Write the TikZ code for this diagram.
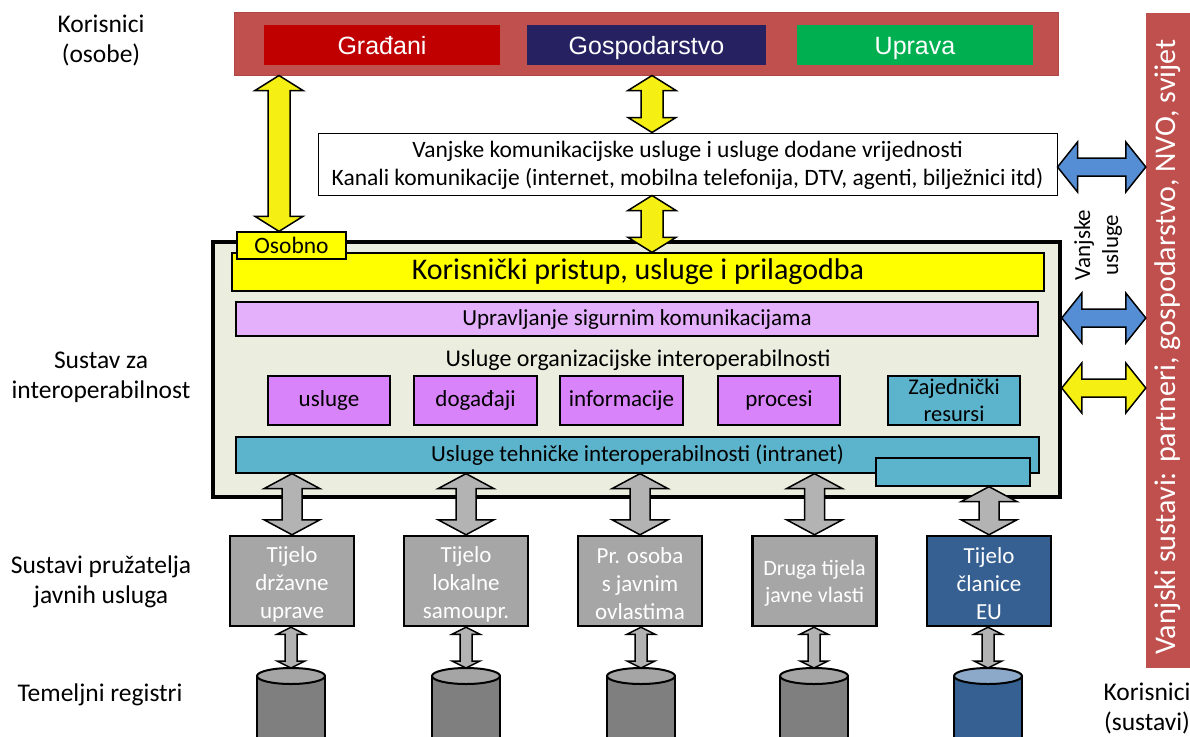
\documentclass[tikz,border=0pt]{standalone}
\usepackage{fontspec}
\setmainfont{Carlito}
\newfontfamily\arialf{Liberation Sans}
\usetikzlibrary{calc}
\definecolor{redbar}{HTML}{C0504D}
\definecolor{redbord}{HTML}{B04744}
\definecolor{gradj}{HTML}{C00000}
\definecolor{gosp}{HTML}{262262}
\definecolor{uprava}{HTML}{00B050}
\definecolor{ylw}{HTML}{FFFF00}
\definecolor{ylwarr}{HTML}{F5EF14}
\definecolor{mainfill}{HTML}{EBEEDF}
\definecolor{lilac}{HTML}{E4B0FC}
\definecolor{purp}{HTML}{D883F9}
\definecolor{cyanb}{HTML}{5CB3CC}
\definecolor{bluearr}{HTML}{558ED5}
\definecolor{grayarr}{HTML}{B3B3B3}
\definecolor{graybox}{HTML}{A6A6A6}
\definecolor{cylbody}{HTML}{7F7F7F}
\definecolor{cyltop}{HTML}{A5A5A5}
\definecolor{eubox}{HTML}{366092}
\definecolor{eutop}{HTML}{8DA9C9}
\newcommand\fsz[2]{\fontsize{#1}{#2}\selectfont}
% vertical double block arrow: top coord, bottom coord, x, shaft half, head half, head length, style
\newcommand\VArr[7]{%
 \path[#7] let \p1=(#1), \p2=(#2) in
 (#3pt,\y1) -- (#3pt+#5pt,\y1-#6pt) -- (#3pt+#4pt,\y1-#6pt) -- (#3pt+#4pt,\y2+#6pt)
 -- (#3pt+#5pt,\y2+#6pt) -- (#3pt,\y2) -- (#3pt-#5pt,\y2+#6pt) -- (#3pt-#4pt,\y2+#6pt)
 -- (#3pt-#4pt,\y1-#6pt) -- (#3pt-#5pt,\y1-#6pt) -- cycle;}
% horizontal double block arrow: left coord, right coord, y, shaft half, head half, head length, style
\newcommand\HArr[7]{%
 \path[#7] let \p1=(#1), \p2=(#2) in
 (\x1,-#3pt) -- (\x1+#6pt,-#3pt+#5pt) -- (\x1+#6pt,-#3pt+#4pt) -- (\x2-#6pt,-#3pt+#4pt)
 -- (\x2-#6pt,-#3pt+#5pt) -- (\x2,-#3pt) -- (\x2-#6pt,-#3pt-#5pt) -- (\x2-#6pt,-#3pt-#4pt)
 -- (\x1+#6pt,-#3pt-#4pt) -- (\x1+#6pt,-#3pt-#5pt) -- cycle;}
\newcommand\Cyl[3]{%
 \draw[line width=2, fill=#2] (#1-34,676) -- (#1-34,750) -- (#1+34,750) -- (#1+34,676);
 \draw[line width=2, fill=#3] (#1,676) ellipse [x radius=34, y radius=8];}
\begin{document}
\begin{tikzpicture}[x=1pt,y=-1pt,
  lbl/.style={font=\fsz{25.5}{30}, align=center, inner sep=0},
  topbox/.style={minimum height=40, inner sep=0, text=white, font=\arialf\fsz{25}{30}, text height=18, text depth=0},
  bar/.style={draw=black, line width=1.3, inner sep=0},
  sbox/.style={draw=black, line width=2, fill=purp, minimum height=49, inner sep=0, font=\fsz{23}{27}},
  pbox/.style={draw=black, line width=2.5, fill=graybox, minimum width=124, minimum height=90, inner sep=0},
  ptext/.style={yshift=-3pt, inner sep=0, text=white, align=center, font=\fsz{23}{28}},
  yarr/.style={draw=black, line width=1.5, fill=ylwarr},
  barr/.style={draw=black, line width=1.5, fill=bluearr},
  garr/.style={draw=black, line width=1.5, fill=grayarr},
]
\useasboundingbox (0,0) rectangle (1190,736);
% left labels
\node[lbl] (l1) at (101,40) {Korisnici\\(osobe)};
\node[lbl] (l2) at (101,377) {Sustav za\\interoperabilnost};
\node[lbl] (l3) at (101,582) {Sustavi pružatelja\\javnih usluga};
\node[lbl] (l4) at (100,695) {Temeljni registri};
% top bar
\node[draw=redbord, line width=1, fill=redbar, minimum width=824, minimum height=63, inner sep=0] (top) at (646,43.5) {};
\node[topbox, fill=gradj, minimum width=236] (gr) at (382,45) {Građani};
\node[topbox, fill=gosp, minimum width=239] (go) at (646.5,45) {Gospodarstvo};
\node[topbox, fill=uprava, minimum width=236] (up) at (915,45) {Uprava};
% white box
\node[draw=black, line width=1, fill=white, minimum width=739, minimum height=62, inner sep=0, align=center, font=\fsz{23.5}{28}] (white) at (687.5,164)
  {\strut Vanjske komunikacijske usluge i usluge dodane vrijednosti\\Kanali komunikacije (internet, mobilna telefonija, DTV, agenti, bilježnici itd)};
% main box
\node[draw=black, line width=3.5, fill=mainfill, minimum width=847, minimum height=255, inner sep=0] (main) at (636.5,369.5) {};
\node[bar, fill=ylw, minimum width=812, minimum height=38, font=\fsz{30}{36}] (ybar) at (638,272) {Korisnički pristup, usluge i prilagodba};
\node[bar, fill=ylw, minimum width=109, minimum height=27, font=\fsz{23.5}{26}] (osobno) at (291.5,245.5) {Osobno};
\node[bar, fill=lilac, minimum width=802, minimum height=34, font=\fsz{23}{27}] (pbar) at (637,319) {Upravljanje sigurnim komunikacijama};
\node[inner sep=0, font=\fsz{24}{28}] (org) at (638,360) {Usluge organizacijske interoperabilnosti};
\node[sbox, minimum width=122] (s1) at (329,400.5) {usluge};
\node[sbox, minimum width=123] (s2) at (475.5,400.5) {događaji};
\node[sbox, minimum width=123] (s3) at (621.5,400.5) {informacije};
\node[sbox, minimum width=122] (s4) at (779,400.5) {procesi};
\node[sbox, fill=cyanb, minimum width=132, align=center, font=\fsz{22.5}{27}] (s5) at (954,400.5) {Zajednički\\resursi};
\node[bar, fill=cyanb, minimum width=803, minimum height=36, font=\fsz{23}{27}] (cbar) at (637.5,455) {Usluge tehničke interoperabilnosti (intranet)};
\node[bar, fill=cyanb, minimum width=154, minimum height=28] (cbox) at (953,472) {};
% bottom boxes
\node[pbox, label={[ptext]center:Tijelo\\državne\\uprave}] (b1) at (292,581) {};
\node[pbox, label={[ptext]center:Tijelo\\lokalne\\samoupr.}] (b2) at (466,581) {};
\node[pbox, label={[ptext]center:Pr. osoba\\s javnim\\ovlastima}] (b3) at (640,581) {};
\node[pbox, label={[ptext, yshift=1pt, font=\fsz{22}{27}]center:Druga tijela\\javne vlasti}] (b4) at (814.5,581) {};
\node[pbox, fill=eubox, label={[ptext]center:Tijelo\\članice\\EU}] (b5) at (989,581) {};
% right bar
\node[fill=redbar, minimum width=44, minimum height=655, inner sep=0] (rbar) at (1168,340.5) {};
\node[rotate=90, text=white, inner sep=0, font=\fsz{30}{34}] (rtext) at (1168,347) {Vanjski sustavi: partneri, gospodarstvo, NVO, svijet};
\node[rotate=90, inner sep=0, align=center, font=\fsz{23}{28}] (vu) at (1098,245) {Vanjske\\usluge};
\node[lbl] (l5) at (1147,708) {Korisnici\\(sustavi)};
% yellow vertical arrows
\VArr{top.south}{osobno.north}{279}{11}{24}{15}{yarr}
\VArr{top.south}{white.north}{652}{11}{24}{15}{yarr}
\VArr{white.south}{ybar.north}{652}{11}{24}{15}{yarr}
% right horizontal arrows
\HArr{white.east}{rbar.west}{167}{9}{25}{20}{barr}
\HArr{main.east}{rbar.west}{318}{9}{25}{20}{barr}
\HArr{main.east}{rbar.west}{388}{9}{25}{20}{yarr}
% gray arrows
\VArr{cbar.south}{b1.north}{292}{10}{28}{15}{garr}
\VArr{cbar.south}{b2.north}{466}{10}{28}{15}{garr}
\VArr{cbar.south}{b3.north}{640}{10}{28}{15}{garr}
\VArr{cbar.south}{b4.north}{814.5}{10}{28}{15}{garr}
\VArr{cbox.south}{b5.north}{989}{10}{28}{15}{garr}
% cylinders
\begin{scope}
\clip (0,0) rectangle (1190,736);
\Cyl{291}{cylbody}{cyltop}
\Cyl{466}{cylbody}{cyltop}
\Cyl{641}{cylbody}{cyltop}
\Cyl{814}{cylbody}{cyltop}
\Cyl{988}{eubox}{eutop}
\end{scope}
\coordinate (c1) at (291,668);
\coordinate (c2) at (466,668);
\coordinate (c3) at (641,668);
\coordinate (c4) at (814,668);
\coordinate (c5) at (988,668);
\VArr{b1.south}{c1}{291}{6}{14}{7}{garr}
\VArr{b2.south}{c2}{466}{6}{14}{7}{garr}
\VArr{b3.south}{c3}{641}{6}{14}{7}{garr}
\VArr{b4.south}{c4}{814}{6}{14}{7}{garr}
\VArr{b5.south}{c5}{988}{6}{14}{7}{garr}
\end{tikzpicture}
\end{document}
